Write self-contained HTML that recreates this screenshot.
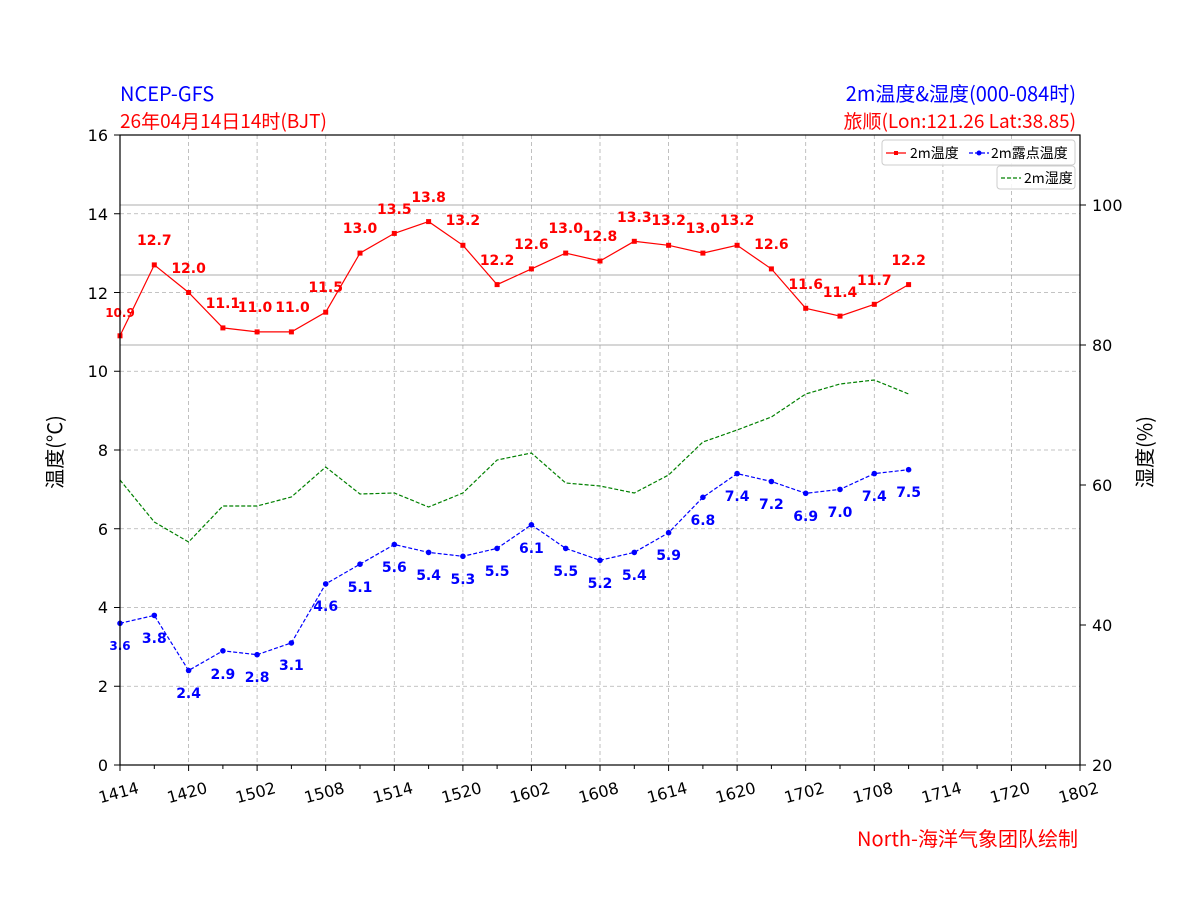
<!DOCTYPE html>
<html><head><meta charset="utf-8"><style>body{margin:0;background:#fff}svg{display:block}text{font-family:"DejaVu Sans","Liberation Sans","Noto Sans CJK SC",sans-serif}.cj{font-family:"WenQuanYi Zen Hei","Noto Sans CJK SC",sans-serif}</style></head><body>
<svg width="1200" height="900" xmlns="http://www.w3.org/2000/svg">
<rect width="1200" height="900" fill="#fff"/>
<g stroke="#b0b0b0" stroke-dasharray="4,3" stroke-width="0.8">
<line x1="120" y1="686.25" x2="1080" y2="686.25"/><line x1="120" y1="607.5" x2="1080" y2="607.5"/><line x1="120" y1="528.75" x2="1080" y2="528.75"/><line x1="120" y1="450" x2="1080" y2="450"/><line x1="120" y1="371.25" x2="1080" y2="371.25"/><line x1="120" y1="292.5" x2="1080" y2="292.5"/><line x1="120" y1="213.75" x2="1080" y2="213.75"/>
<line x1="188.6" y1="135" x2="188.6" y2="765"/><line x1="257.1" y1="135" x2="257.1" y2="765"/><line x1="325.7" y1="135" x2="325.7" y2="765"/><line x1="394.3" y1="135" x2="394.3" y2="765"/><line x1="462.9" y1="135" x2="462.9" y2="765"/><line x1="531.4" y1="135" x2="531.4" y2="765"/><line x1="600" y1="135" x2="600" y2="765"/><line x1="668.6" y1="135" x2="668.6" y2="765"/><line x1="737.1" y1="135" x2="737.1" y2="765"/><line x1="805.7" y1="135" x2="805.7" y2="765"/><line x1="874.3" y1="135" x2="874.3" y2="765"/><line x1="942.9" y1="135" x2="942.9" y2="765"/><line x1="1011.4" y1="135" x2="1011.4" y2="765"/>
</g>
<g stroke="#909090" stroke-width="0.8"><line x1="120" y1="205" x2="1080" y2="205"/><line x1="120" y1="275" x2="1080" y2="275"/><line x1="120" y1="345" x2="1080" y2="345"/></g>
<polyline fill="none" stroke="green" stroke-width="1.2" stroke-dasharray="4,2" points="120,480 154.3,522 188.6,542 222.9,506 257.1,506 291.4,497 325.7,467 360,494 394.3,493 428.6,507 462.9,493 497.1,460 531.4,453 565.7,483 600,486 634.3,493 668.6,475 702.9,442 737.1,430 771.4,417 805.7,394 840,384 874.3,380 908.6,394"/>
<polyline fill="none" stroke="red" stroke-width="1.2" points="120,335.8 154.3,264.9 188.6,292.5 222.9,327.9 257.1,331.9 291.4,331.9 325.7,312.2 360,253.1 394.3,233.4 428.6,221.6 462.9,245.3 497.1,284.6 531.4,268.9 565.7,253.1 600,261 634.3,241.3 668.6,245.3 702.9,253.1 737.1,245.3 771.4,268.9 805.7,308.3 840,316.1 874.3,304.3 908.6,284.6"/>
<g fill="red"><rect x="117.5" y="333.3" width="5" height="5"/><rect x="151.8" y="262.4" width="5" height="5"/><rect x="186.1" y="290" width="5" height="5"/><rect x="220.4" y="325.4" width="5" height="5"/><rect x="254.6" y="329.4" width="5" height="5"/><rect x="288.9" y="329.4" width="5" height="5"/><rect x="323.2" y="309.7" width="5" height="5"/><rect x="357.5" y="250.6" width="5" height="5"/><rect x="391.8" y="230.9" width="5" height="5"/><rect x="426.1" y="219.1" width="5" height="5"/><rect x="460.4" y="242.8" width="5" height="5"/><rect x="494.6" y="282.1" width="5" height="5"/><rect x="528.9" y="266.4" width="5" height="5"/><rect x="563.2" y="250.6" width="5" height="5"/><rect x="597.5" y="258.5" width="5" height="5"/><rect x="631.8" y="238.8" width="5" height="5"/><rect x="666.1" y="242.8" width="5" height="5"/><rect x="700.4" y="250.6" width="5" height="5"/><rect x="734.6" y="242.8" width="5" height="5"/><rect x="768.9" y="266.4" width="5" height="5"/><rect x="803.2" y="305.8" width="5" height="5"/><rect x="837.5" y="313.6" width="5" height="5"/><rect x="871.8" y="301.8" width="5" height="5"/><rect x="906.1" y="282.1" width="5" height="5"/></g>
<polyline fill="none" stroke="blue" stroke-width="1.2" stroke-dasharray="4,2" points="120,623.3 154.3,615.4 188.6,670.5 222.9,650.8 257.1,654.7 291.4,642.9 325.7,583.9 360,564.2 394.3,544.5 428.6,552.4 462.9,556.3 497.1,548.4 531.4,524.8 565.7,548.4 600,560.3 634.3,552.4 668.6,532.7 702.9,497.3 737.1,473.6 771.4,481.5 805.7,493.3 840,489.4 874.3,473.6 908.6,469.7"/>
<g fill="blue"><circle cx="120" cy="623.3" r="2.8"/><circle cx="154.3" cy="615.4" r="2.8"/><circle cx="188.6" cy="670.5" r="2.8"/><circle cx="222.9" cy="650.8" r="2.8"/><circle cx="257.1" cy="654.7" r="2.8"/><circle cx="291.4" cy="642.9" r="2.8"/><circle cx="325.7" cy="583.9" r="2.8"/><circle cx="360" cy="564.2" r="2.8"/><circle cx="394.3" cy="544.5" r="2.8"/><circle cx="428.6" cy="552.4" r="2.8"/><circle cx="462.9" cy="556.3" r="2.8"/><circle cx="497.1" cy="548.4" r="2.8"/><circle cx="531.4" cy="524.8" r="2.8"/><circle cx="565.7" cy="548.4" r="2.8"/><circle cx="600" cy="560.3" r="2.8"/><circle cx="634.3" cy="552.4" r="2.8"/><circle cx="668.6" cy="532.7" r="2.8"/><circle cx="702.9" cy="497.3" r="2.8"/><circle cx="737.1" cy="473.6" r="2.8"/><circle cx="771.4" cy="481.5" r="2.8"/><circle cx="805.7" cy="493.3" r="2.8"/><circle cx="840" cy="489.4" r="2.8"/><circle cx="874.3" cy="473.6" r="2.8"/><circle cx="908.6" cy="469.7" r="2.8"/></g>
<g fill="red" font-size="14" font-weight="bold" text-anchor="middle">
<text x="120" y="317" font-size="12">10.9</text><text x="154.3" y="245">12.7</text><text x="188.6" y="273">12.0</text><text x="222.9" y="308">11.1</text><text x="255" y="312">11.0</text><text x="292.5" y="312">11.0</text><text x="325.7" y="292">11.5</text><text x="360" y="233">13.0</text><text x="394.3" y="214">13.5</text><text x="428.6" y="202">13.8</text><text x="462.9" y="225">13.2</text><text x="497.1" y="265">12.2</text><text x="531.4" y="249">12.6</text><text x="565.7" y="233">13.0</text><text x="600" y="241">12.8</text><text x="634.3" y="222">13.3</text><text x="668.6" y="225">13.2</text><text x="702.9" y="233">13.0</text><text x="737.1" y="225">13.2</text><text x="771.4" y="249">12.6</text><text x="805.7" y="289">11.6</text><text x="840" y="297">11.4</text><text x="874.3" y="285">11.7</text><text x="908.6" y="265">12.2</text>
</g>
<g fill="blue" font-size="14" font-weight="bold" text-anchor="middle">
<text x="120" y="650" font-size="12">3.6</text><text x="154.3" y="643">3.8</text><text x="188.6" y="698">2.4</text><text x="222.9" y="679">2.9</text><text x="257.1" y="682">2.8</text><text x="291.4" y="670">3.1</text><text x="325.7" y="611">4.6</text><text x="360" y="592">5.1</text><text x="394.3" y="572">5.6</text><text x="428.6" y="580">5.4</text><text x="462.9" y="584">5.3</text><text x="497.1" y="576">5.5</text><text x="531.4" y="553">6.1</text><text x="565.7" y="576">5.5</text><text x="600" y="588">5.2</text><text x="634.3" y="580">5.4</text><text x="668.6" y="560">5.9</text><text x="702.9" y="525">6.8</text><text x="737.1" y="501">7.4</text><text x="771.4" y="509">7.2</text><text x="805.7" y="521">6.9</text><text x="840" y="517">7.0</text><text x="874.3" y="501">7.4</text><text x="908.6" y="497">7.5</text>
</g>
<rect x="120" y="135" width="960" height="630" fill="none" stroke="#000" stroke-width="1.2"/>
<g stroke="#000" stroke-width="1">
<line x1="114" y1="765" x2="120" y2="765"/><line x1="114" y1="686.25" x2="120" y2="686.25"/><line x1="114" y1="607.5" x2="120" y2="607.5"/><line x1="114" y1="528.75" x2="120" y2="528.75"/><line x1="114" y1="450" x2="120" y2="450"/><line x1="114" y1="371.25" x2="120" y2="371.25"/><line x1="114" y1="292.5" x2="120" y2="292.5"/><line x1="114" y1="213.75" x2="120" y2="213.75"/><line x1="114" y1="135" x2="120" y2="135"/>
<line x1="1080" y1="765" x2="1086" y2="765"/><line x1="1080" y1="625" x2="1086" y2="625"/><line x1="1080" y1="485" x2="1086" y2="485"/><line x1="1080" y1="345" x2="1086" y2="345"/><line x1="1080" y1="205" x2="1086" y2="205"/>
<line x1="120" y1="765" x2="120" y2="771"/><line x1="188.6" y1="765" x2="188.6" y2="771"/><line x1="257.1" y1="765" x2="257.1" y2="771"/><line x1="325.7" y1="765" x2="325.7" y2="771"/><line x1="394.3" y1="765" x2="394.3" y2="771"/><line x1="462.9" y1="765" x2="462.9" y2="771"/><line x1="531.4" y1="765" x2="531.4" y2="771"/><line x1="600" y1="765" x2="600" y2="771"/><line x1="668.6" y1="765" x2="668.6" y2="771"/><line x1="737.1" y1="765" x2="737.1" y2="771"/><line x1="805.7" y1="765" x2="805.7" y2="771"/><line x1="874.3" y1="765" x2="874.3" y2="771"/><line x1="942.9" y1="765" x2="942.9" y2="771"/><line x1="1011.4" y1="765" x2="1011.4" y2="771"/><line x1="1080" y1="765" x2="1080" y2="771"/>
<line x1="154.3" y1="765" x2="154.3" y2="769"/><line x1="222.9" y1="765" x2="222.9" y2="769"/><line x1="291.4" y1="765" x2="291.4" y2="769"/><line x1="360" y1="765" x2="360" y2="769"/><line x1="428.6" y1="765" x2="428.6" y2="769"/><line x1="497.1" y1="765" x2="497.1" y2="769"/><line x1="565.7" y1="765" x2="565.7" y2="769"/><line x1="634.3" y1="765" x2="634.3" y2="769"/><line x1="702.9" y1="765" x2="702.9" y2="769"/><line x1="771.4" y1="765" x2="771.4" y2="769"/><line x1="840" y1="765" x2="840" y2="769"/><line x1="908.6" y1="765" x2="908.6" y2="769"/><line x1="977.1" y1="765" x2="977.1" y2="769"/><line x1="1045.7" y1="765" x2="1045.7" y2="769"/>
</g>
<g font-size="16" fill="#000" text-anchor="end"><text x="108" y="771">0</text><text x="108" y="692">2</text><text x="108" y="613">4</text><text x="108" y="535">6</text><text x="108" y="456">8</text><text x="108" y="377">10</text><text x="108" y="299">12</text><text x="108" y="220">14</text><text x="108" y="141">16</text></g>
<g font-size="16" fill="#000"><text x="1092" y="771">20</text><text x="1092" y="631">40</text><text x="1092" y="491">60</text><text x="1092" y="351">80</text><text x="1092" y="211">100</text></g>
<g font-size="16" fill="#000" text-anchor="middle">
<text transform="translate(120,798) rotate(-15)">1414</text><text transform="translate(188.6,798) rotate(-15)">1420</text><text transform="translate(257.1,798) rotate(-15)">1502</text><text transform="translate(325.7,798) rotate(-15)">1508</text><text transform="translate(394.3,798) rotate(-15)">1514</text><text transform="translate(462.9,798) rotate(-15)">1520</text><text transform="translate(531.4,798) rotate(-15)">1602</text><text transform="translate(600,798) rotate(-15)">1608</text><text transform="translate(668.6,798) rotate(-15)">1614</text><text transform="translate(737.1,798) rotate(-15)">1620</text><text transform="translate(805.7,798) rotate(-15)">1702</text><text transform="translate(874.3,798) rotate(-15)">1708</text><text transform="translate(942.9,798) rotate(-15)">1714</text><text transform="translate(1011.4,798) rotate(-15)">1720</text><text transform="translate(1080,798) rotate(-15)">1802</text>
</g>
<g class="cj">
<text class="cj" transform="translate(62,452) rotate(-90)" font-size="20" text-anchor="middle">温度(°C)</text>
<text class="cj" transform="translate(1152,452) rotate(-90)" font-size="20" text-anchor="middle">湿度(%)</text>
<text class="cj" x="120" y="101" font-size="20" fill="blue">NCEP-GFS</text>
<text class="cj" x="120" y="128" font-size="19" fill="red">26年04月14日14时(BJT)</text>
<text class="cj" x="1076" y="101" font-size="20" fill="blue" text-anchor="end">2m温度&amp;湿度(000-084时)</text>
<text class="cj" x="1076" y="128" font-size="19" fill="red" text-anchor="end">旅顺(Lon:121.26 Lat:38.85)</text>
<text class="cj" x="1078" y="846" font-size="20" fill="red" text-anchor="end">North-海洋气象团队绘制</text>
</g>
<rect x="882" y="140" width="193" height="25" rx="3" fill="#fff" fill-opacity="0.85" stroke="#ccc"/>
<line x1="886" y1="153" x2="906" y2="153" stroke="red" stroke-width="1.2"/><rect x="894" y="151" width="4" height="4" fill="red"/>
<text class="cj" x="910" y="158" font-size="14">2m温度</text>
<line x1="969" y1="153" x2="989" y2="153" stroke="blue" stroke-width="1.2" stroke-dasharray="4,2"/><circle cx="979" cy="153" r="2.5" fill="blue"/>
<text class="cj" x="991" y="158" font-size="14">2m露点温度</text>
<rect x="997" y="166" width="78" height="23" rx="3" fill="#fff" fill-opacity="0.85" stroke="#ccc"/>
<line x1="1001" y1="178" x2="1021" y2="178" stroke="green" stroke-width="1.2" stroke-dasharray="4,2"/>
<text class="cj" x="1024" y="183" font-size="14">2m湿度</text>
</svg>
</body></html>
